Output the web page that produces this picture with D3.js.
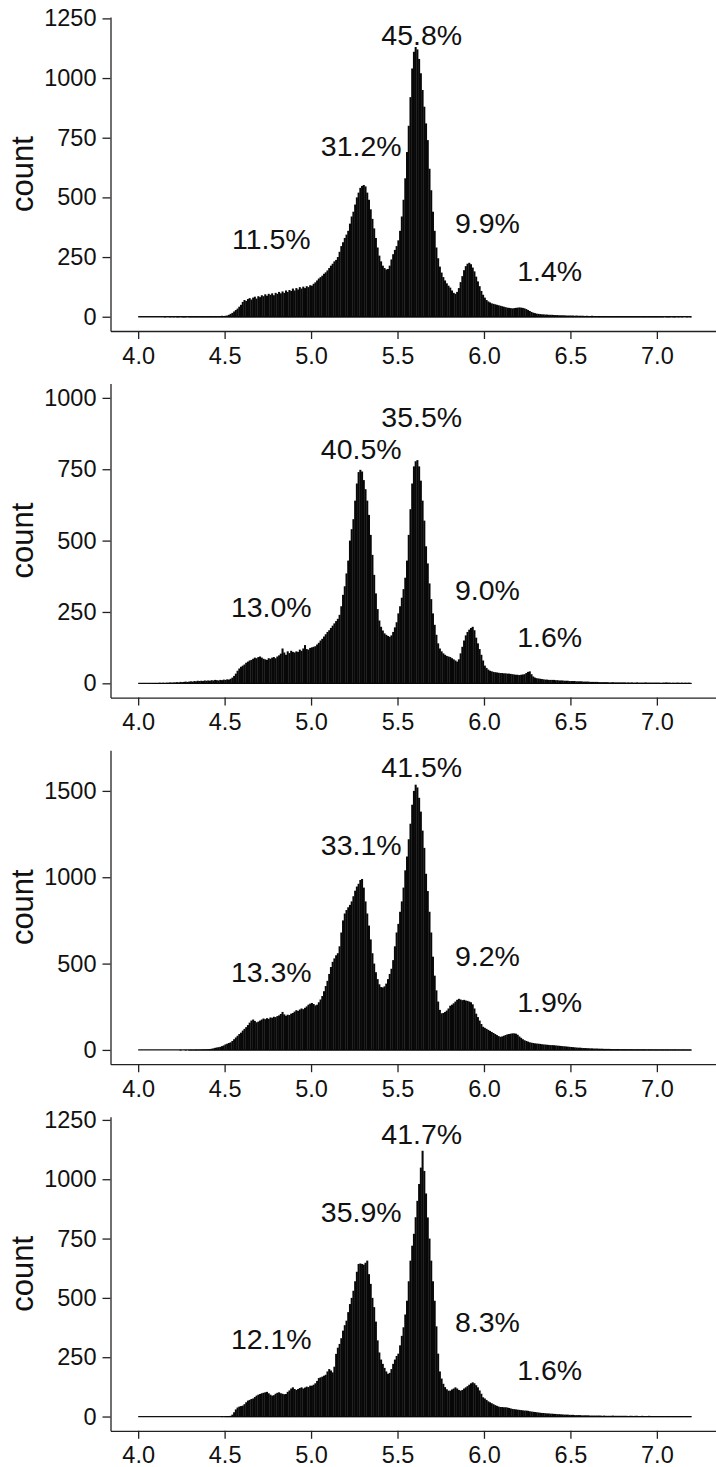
<!DOCTYPE html>
<html>
<head>
<meta charset="utf-8">
<script src="https://cdn.jsdelivr.net/npm/d3@7"></script>
<style>
  body { margin: 0; background: #fff; }
  svg text { font-family: "Liberation Sans", Arial, sans-serif; fill: #111; }
</style>
</head>
<body>
<div class="hist"></div>
<script>
// histogram bins: 0.01 wide, starting at 4.00 (320 bins up to 7.20)
const binStart = 4.0
const binWidth = 0.01

const countsA = [
  0,0,0,0,0,0,0,0,0,0,
  0,0,0,0,0,1,0,0,1,0,
  1,0,1,1,0,1,1,1,0,1,
  1,1,2,1,1,2,1,2,2,1,
  2,2,3,2,3,3,2,3,4,3,
  4,5,8,12,16,22,28,34,42,50,
  62,70,66,74,78,72,80,84,76,86,
  82,90,86,94,88,96,92,98,90,100,
  96,104,98,106,100,110,104,112,108,118,
  110,120,114,124,118,126,120,128,124,132,
  130,138,144,152,160,166,172,180,186,194,
  204,214,222,232,238,250,272,296,312,330,
  344,360,390,420,440,470,500,520,540,548,
  552,546,520,490,450,410,370,330,290,256,
  232,214,204,198,200,214,240,262,280,296,
  320,360,420,490,580,690,800,920,1040,1110,
  1130,1120,1080,1020,950,880,810,740,620,530,
  440,360,290,245,210,185,166,152,140,130,
  122,110,100,96,104,120,145,170,195,212,
  222,226,220,206,190,168,148,128,108,92,
  80,70,64,60,56,54,52,50,48,46,
  44,42,40,38,37,36,35,36,37,38,
  39,38,37,35,32,28,24,20,17,15,
  13,12,11,10,10,9,9,8,8,8,
  7,7,7,6,6,6,6,5,5,5,
  5,5,4,5,4,4,4,4,3,4,
  3,3,4,3,3,3,3,3,2,3,
  2,3,2,2,2,2,3,2,2,2,
  2,2,2,1,2,2,1,2,1,2,
  1,1,2,1,1,1,1,2,1,1,
  1,1,1,1,0,1,1,1,0,1,
  1,0,1,0,1,0,0,1,0,1
]

const countsB = [
  0,0,0,1,0,0,1,0,1,1,
  1,1,2,1,2,1,2,2,3,2,
  3,3,4,3,5,4,5,6,5,6,
  7,6,8,7,9,8,9,8,10,9,
  10,9,11,10,12,11,10,12,11,13,
  12,14,13,16,20,26,34,44,52,58,
  62,66,72,76,80,82,86,90,88,92,
  94,90,86,84,82,88,86,90,92,88,
  94,98,104,122,108,100,112,106,114,110,
  108,112,110,118,114,122,134,120,118,124,
  126,128,130,136,142,150,156,164,172,180,
  186,194,202,210,218,226,240,270,310,340,
  385,430,500,540,575,640,700,740,748,742,
  712,680,640,590,520,450,380,315,260,220,
  198,185,175,170,166,163,168,180,196,214,
  245,270,300,330,370,430,520,610,700,760,
  778,782,760,710,640,570,480,420,350,295,
  245,205,170,140,122,112,105,100,96,94,
  92,88,84,80,76,84,105,128,150,168,
  180,188,194,198,186,160,140,120,100,80,
  62,54,48,44,42,40,39,38,37,36,
  36,35,35,34,34,33,32,31,30,30,
  29,30,31,32,36,40,42,32,24,20,
  18,17,16,15,14,13,13,12,12,12,
  12,11,11,10,10,10,9,9,9,8,
  8,8,8,7,7,7,7,6,6,6,
  6,5,5,5,5,5,4,4,4,4,
  4,4,3,3,4,3,3,3,3,3,
  3,3,2,3,2,3,2,2,3,2,
  2,2,2,3,2,2,2,2,2,2,
  2,2,1,2,2,3,2,2,1,2,
  1,2,2,1,2,1,2,1,2,1
]

const countsC = [
  0,0,0,0,0,0,0,0,0,0,
  0,0,0,0,0,0,0,0,0,0,
  0,0,0,0,1,0,0,1,0,1,
  1,1,1,2,1,2,2,3,3,4,
  4,5,7,9,12,14,16,18,22,26,
  32,36,40,44,52,62,72,82,92,100,
  112,122,132,144,158,170,176,168,160,164,
  170,176,182,178,184,180,188,186,192,190,
  196,200,208,220,206,198,204,202,210,214,
  222,230,226,234,240,236,244,252,262,268,
  272,266,258,262,276,292,312,340,370,400,
  440,480,510,530,548,560,600,680,750,790,
  810,826,840,860,890,922,946,962,984,990,
  940,860,790,720,640,560,500,450,410,380,
  364,362,368,384,410,440,470,520,600,680,
  730,800,860,940,1040,1120,1220,1310,1420,1500,
  1536,1520,1460,1380,1270,1170,1020,920,800,680,
  540,430,345,280,232,212,214,220,228,240,
  256,262,270,280,290,296,292,288,290,286,
  284,280,276,264,240,210,190,170,150,134,
  128,122,116,110,104,98,92,86,80,76,
  78,82,86,90,92,94,96,96,94,88,
  78,70,62,56,52,48,44,42,40,38,
  37,36,35,33,32,31,30,29,28,28,
  27,26,25,24,23,22,21,20,19,18,
  17,16,15,14,13,13,12,11,11,10,
  10,9,9,8,8,8,7,7,7,6,
  6,6,6,5,5,5,5,5,4,4,
  4,4,4,4,3,4,3,3,3,3,
  3,3,3,3,2,3,2,3,2,2,
  2,2,2,2,2,2,2,1,2,2,
  2,1,2,1,1,2,1,1,1,1
]

const countsD = [
  0,0,0,0,0,0,0,0,0,0,
  0,0,0,0,0,0,0,0,0,0,
  0,0,0,0,0,0,0,0,0,0,
  0,0,0,0,0,0,0,0,0,0,
  0,0,0,0,0,0,0,0,1,0,
  1,1,2,3,8,18,30,38,42,44,
  46,52,60,67,70,74,76,82,88,92,
  95,98,100,102,104,98,92,88,90,96,
  100,102,98,96,94,95,104,110,118,123,
  116,112,116,120,123,118,122,126,124,130,
  130,134,140,150,162,165,168,172,176,190,
  200,194,186,210,264,290,306,330,362,385,
  404,440,474,500,530,570,610,643,645,643,
  640,648,657,600,559,500,461,400,321,270,
  240,222,205,190,180,184,200,222,240,255,
  265,300,340,376,430,488,570,657,720,770,
  840,909,980,1049,1120,1035,940,839,750,657,
  570,488,380,265,190,160,138,124,115,109,
  109,114,118,123,118,112,109,112,118,123,
  128,134,140,144,140,132,123,110,96,81,
  76,70,64,60,56,52,48,45,42,40,
  40,39,39,38,36,34,32,31,30,29,
  28,27,26,25,25,24,22,21,20,19,
  18,17,16,15,15,14,13,13,12,12,
  11,11,10,10,9,9,8,8,8,7,
  7,7,6,6,6,6,5,5,5,5,
  5,4,4,4,4,4,4,4,3,4,
  3,3,3,3,4,3,3,3,3,3,
  3,3,3,2,3,3,2,3,3,2,
  2,3,2,2,2,3,2,2,2,2,
  2,2,2,2,1,2,2,2,2,1,
  2,1,2,1,2,1,1,2,1,1
]

const series = [countsA, countsB, countsC, countsD]

// y axis top (ggplot style expand) and tick values per panel
const yMax = [1196, 1000, 1653, 1203]
const yTicks = [
  [0, 250, 500, 750, 1000, 1250],
  [0, 250, 500, 750, 1000],
  [0, 500, 1000, 1500],
  [0, 250, 500, 750, 1000, 1250]
]
const xTicks = [4.0, 4.5, 5.0, 5.5, 6.0, 6.5, 7.0]

// percentage annotations (x value, count)
const labelX = [4.77, 5.29, 5.64, 6.02, 6.38]
const labelText = [
  ["11.5%", "31.2%", "45.8%", "9.9%", "1.4%"],
  ["13.0%", "40.5%", "35.5%", "9.0%", "1.6%"],
  ["13.3%", "33.1%", "41.5%", "9.2%", "1.9%"],
  ["12.1%", "35.9%", "41.7%", "8.3%", "1.6%"]
]
const labelY = [
  [326, 715, 1180, 393, 191],
  [269, 822, 934, 328, 162],
  [452, 1191, 1639, 543, 278],
  [329, 863, 1193, 399, 198]
]

const W = 716, H = 1467
const left = 110.5
const panelTop0 = 17, panelH = 314, panelStep = 366.6

const svg = d3.select(".hist").append("svg")
  .attr("width", W)
  .attr("height", H)

const x = d3.scaleLinear()
  .domain([3.84, 7.36])
  .range([left, left + 3.52 * 172.9])

series.forEach(function (counts, p) {
  const top = panelTop0 + p * panelStep
  const bottom = top + panelH
  const M = yMax[p]

  const y = d3.scaleLinear()
    .domain([-0.05 * M, 1.05 * M])
    .range([bottom, top])

  const g = svg.append("g").attr("class", "panel")

  const bins = counts.map(function (c, i) {
    const x0 = binStart + i * binWidth
    return {x0: x0, x1: x0 + binWidth, n: c}
  })

  // flat baseline where the empty bins sit
  g.append("line")
    .attr("x1", x(binStart))
    .attr("x2", x(binStart + counts.length * binWidth))
    .attr("y1", y(0))
    .attr("y2", y(0))
    .attr("stroke", "#111")
    .attr("stroke-width", 1.3)

  // bars overlap a hair so they read as a solid black mass
  g.selectAll("rect.bar")
    .data(bins.filter(function (d) { return d.n > 0 }))
    .enter()
    .append("rect")
    .attr("class", "bar")
    .attr("x", function (d) { return x(d.x0) - 0.15 })
    .attr("width", function (d) { return x(d.x1) - x(d.x0) + 0.3 })
    .attr("y", function (d) { return y(d.n) })
    .attr("height", function (d) { return y(0) - y(d.n) + 0.6 })
    .attr("fill", "#080808")

  // axes
  const yAxis = d3.axisLeft(y)
    .tickValues(yTicks[p])
    .tickFormat(d3.format("d"))
    .tickSize(8)
    .tickSizeOuter(0)
    .tickPadding(6)

  const xAxis = d3.axisBottom(x)
    .tickValues(xTicks)
    .tickFormat(d3.format(".1f"))
    .tickSize(8)
    .tickSizeOuter(0)
    .tickPadding(8)

  const ya = g.append("g")
    .attr("class", "y axis")
    .attr("transform", "translate(" + left + ",0)")
    .call(yAxis)

  const xa = g.append("g")
    .attr("class", "x axis")
    .attr("transform", "translate(0," + bottom + ")")
    .call(xAxis)

  svg.selectAll(".axis path, .axis line")
    .attr("stroke", "#222")
    .attr("stroke-width", 1.3)
  ya.selectAll("text").style("font-size", "23.5px").attr("fill", "#111")
  xa.selectAll("text").style("font-size", "23.5px").attr("fill", "#111")

  // axis title
  g.append("text")
    .attr("transform", "translate(33," + ((top + bottom) / 2) + ") rotate(-90)")
    .attr("text-anchor", "middle")
    .style("font-size", "31px")
    .text("count")

  // percentage labels
  g.selectAll("text.pct")
    .data(labelText[p])
    .enter()
    .append("text")
    .attr("class", "pct")
    .attr("x", function (d, i) { return x(labelX[i]) })
    .attr("y", function (d, i) { return y(labelY[p][i]) })
    .attr("dy", "0.36em")
    .attr("text-anchor", "middle")
    .style("font-size", "28.5px")
    .text(function (d) { return d })
})
</script>
</body>
</html>
